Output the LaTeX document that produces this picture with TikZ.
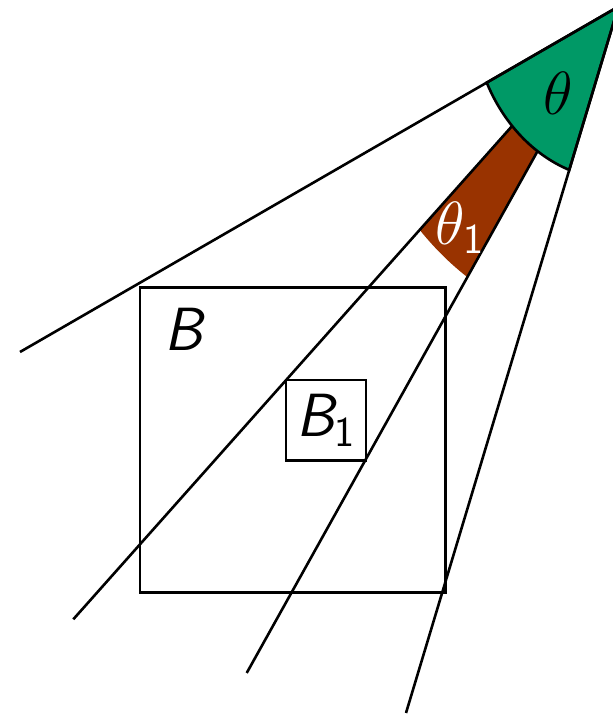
\RequirePackage{fix-cm}
\documentclass[tikz,border=0pt]{standalone}
\usepackage{fontspec}
\definecolor{wedgegreen}{RGB}{0,153,102}
\definecolor{wedgered}{RGB}{153,51,0}
\tikzset{
  ray/.style={line width=1.3pt},
  lbl/.style={font=\fontsize{30.5}{36}\selectfont},
}
\newcommand{\sfit}[1]{\mbox{\sffamily\itshape #1}}
\begin{document}
\begin{tikzpicture}[x=0.5pt,y=0.5pt]
\useasboundingbox (0,0) rectangle (613,714);
\clip (0,0) rectangle (613,714);
\coordinate (apex) at (618.4,707.4);
\coordinate (endA) at (20,362);
\coordinate (endB) at (73.3,94.7);
\coordinate (endC) at (246.7,41);
\coordinate (endD) at (406,1);
\path (apex) ++(223.5:146.5 and 173.4) coordinate (arcB);
\path (apex) ++(236.5:146.5 and 173.4) coordinate (arcC);

% red band
\fill[wedgered] (arcB) arc[start angle=223.5, end angle=236.5, x radius=146.5, y radius=173.4]
  -- ++(236.5:127.5 and 150.9)
  arc[start angle=236.5, end angle=223.5, x radius=274, y radius=324.3] -- cycle;

% green wedge
\filldraw[ray, fill=wedgegreen] (apex) -- ++(206:146.5 and 173.4)
  arc[start angle=206, end angle=250.4, x radius=146.5, y radius=173.4] -- cycle;

\draw[ray] (apex) -- (endA);
\draw[ray] (arcB) -- (endB);
\draw[ray] (arcC) -- (endC);
\draw[ray] (apex) -- (endD);

\draw[ray] (140,121.3) rectangle (445.7,426.7);
\node[lbl, anchor=base] (labelB) at (183.8,363.3) {$\sfit{B}$};
\node[lbl, ray, draw, minimum width=40pt, minimum height=40.3pt, inner sep=0pt] (boxB1) at (326,293.7) {$\sfit{B}_{\mathsf{1}}$};

\node[lbl, anchor=base] (theta) at (558.7,599) {$\theta$};
\node[lbl, anchor=base, text=white] (thetaone) at (459.7,469.5) {$\theta_{\mathsf{1}}$};
\end{tikzpicture}
\end{document}
